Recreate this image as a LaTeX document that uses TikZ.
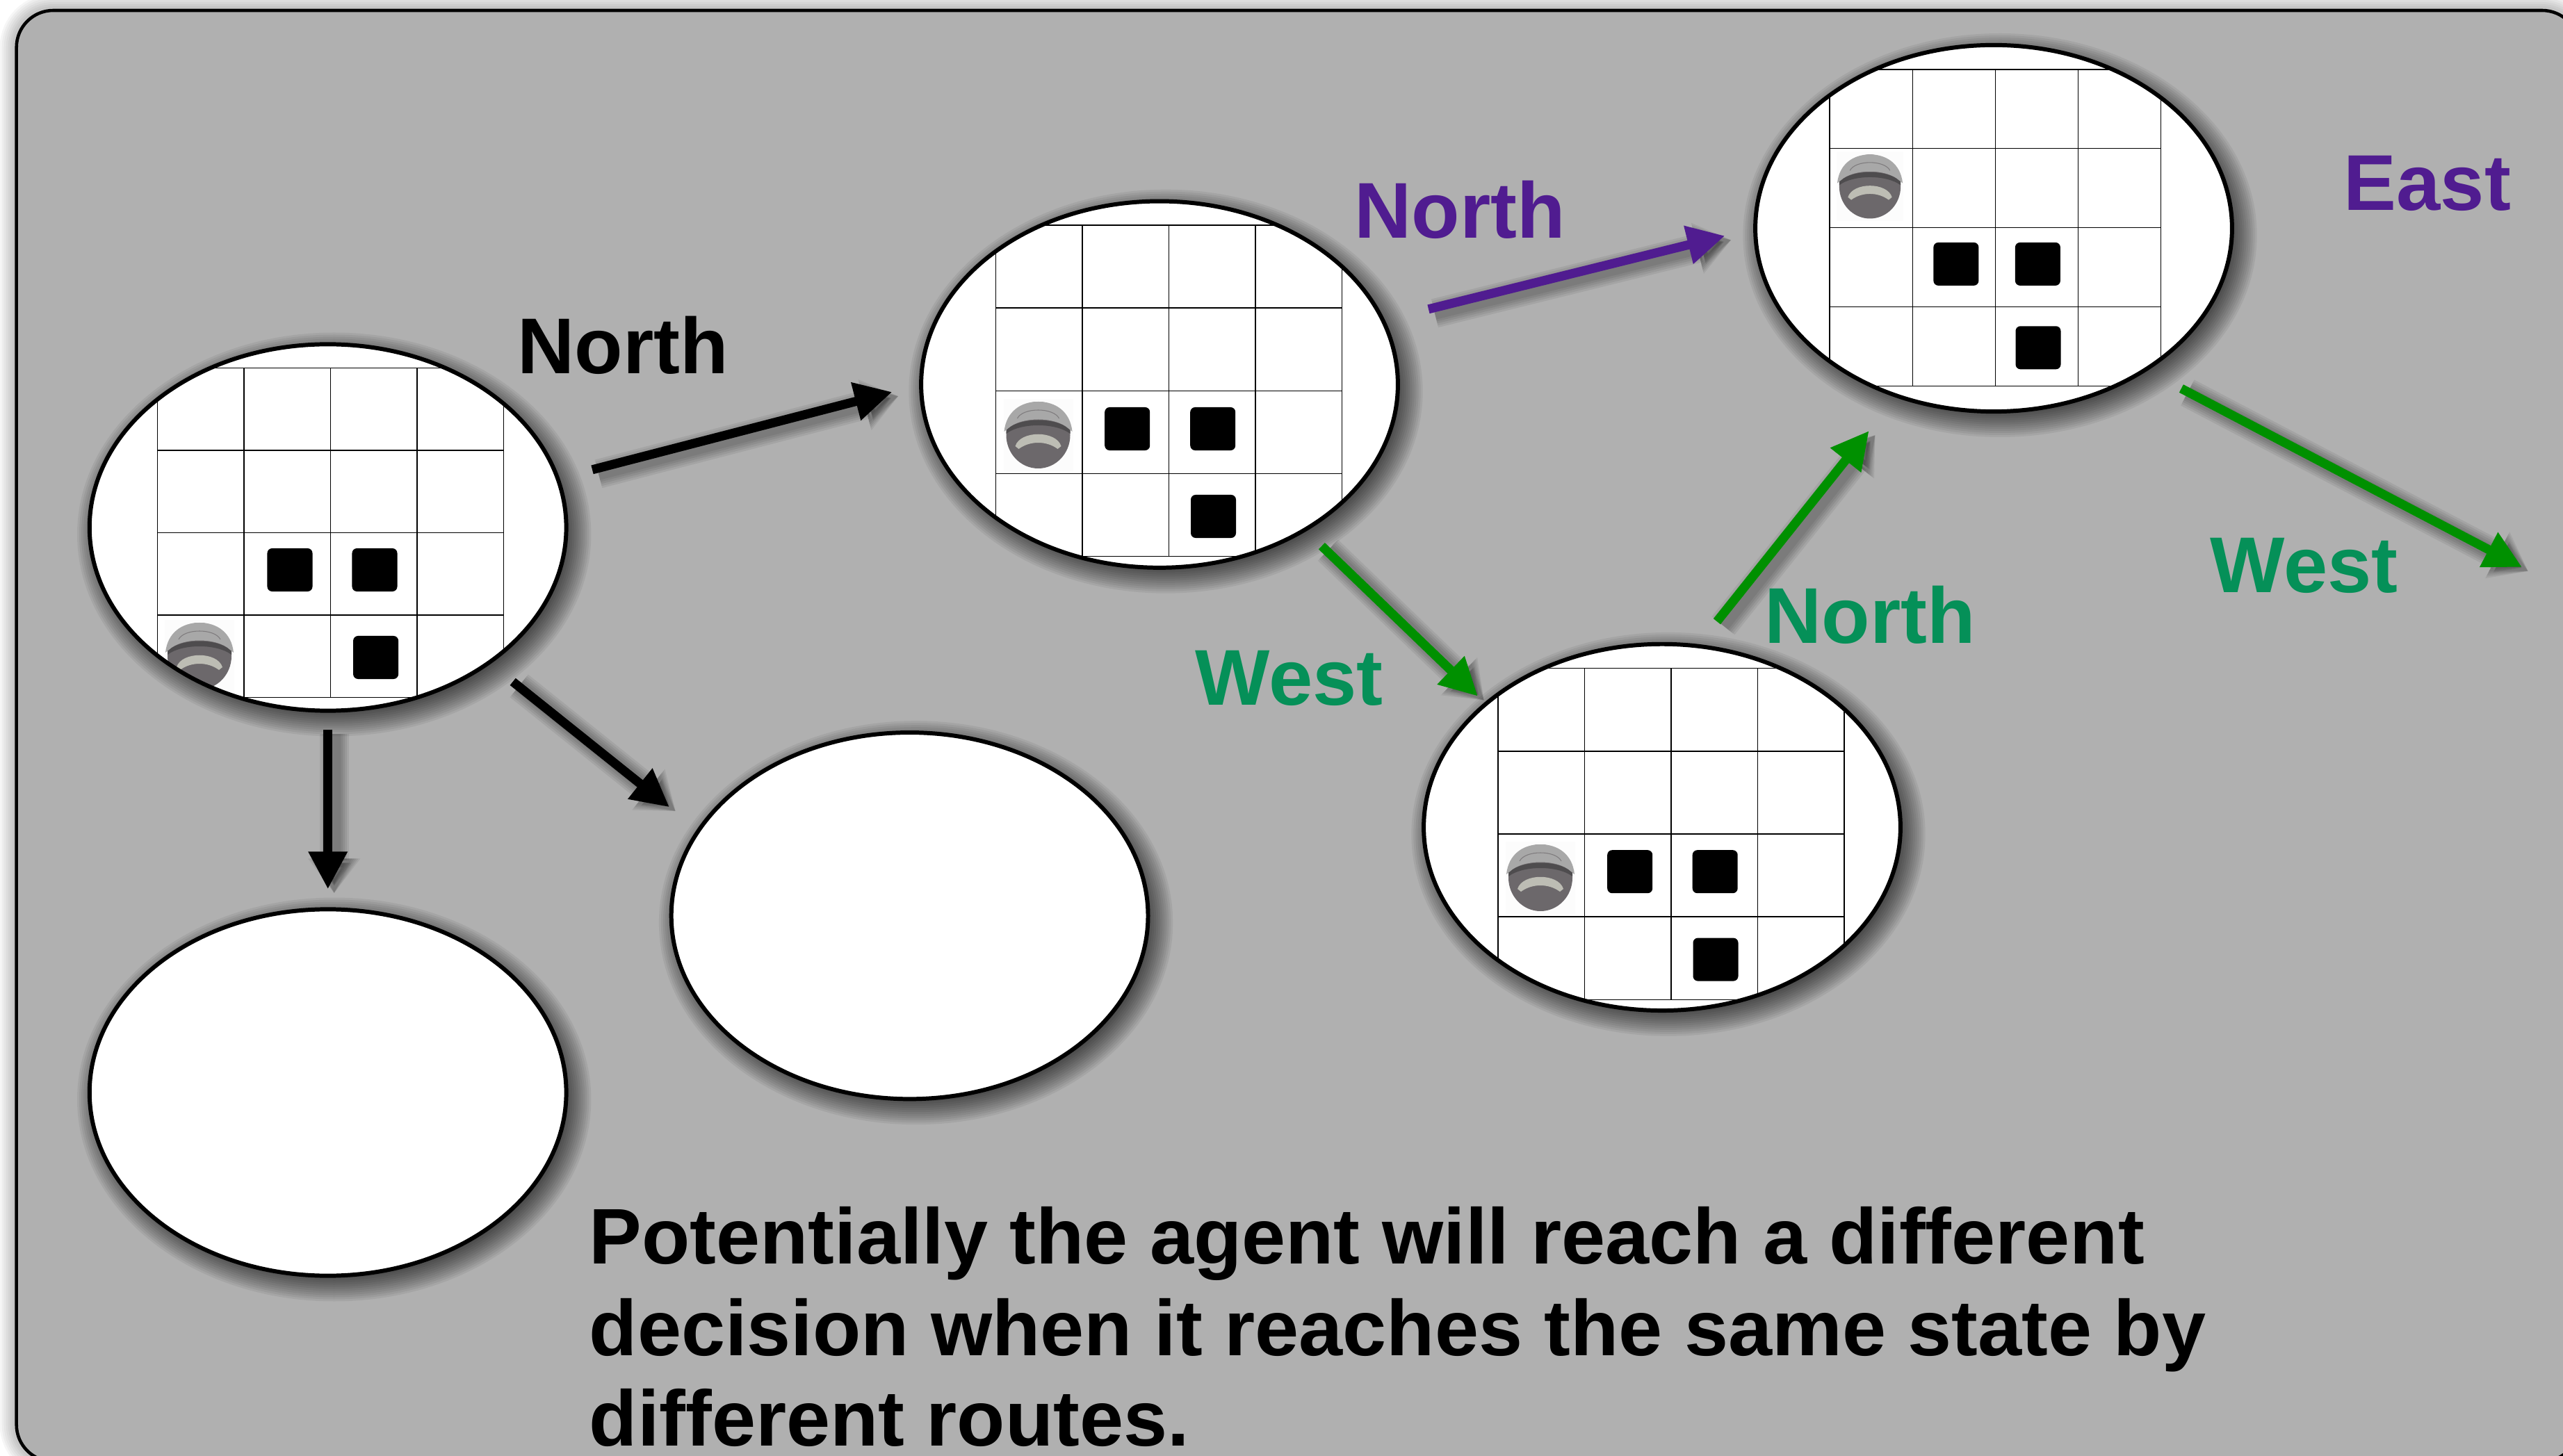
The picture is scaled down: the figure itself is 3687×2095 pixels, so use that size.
\documentclass[tikz,border=0pt]{standalone}
\usepackage{fontspec}
\setmainfont{Liberation Sans}
\usetikzlibrary{shapes.geometric,arrows.meta}
\definecolor{panel}{HTML}{B0B0B0}
\definecolor{royal}{HTML}{501C90}
\definecolor{moss}{HTML}{059058}
\definecolor{leaf}{HTML}{009000}
\definecolor{shell}{HTML}{A8A8A8}
\definecolor{body}{HTML}{6C686B}
\definecolor{lid}{HTML}{4E4C4E}
\definecolor{pad}{HTML}{BDBDB4}
\newcommand{\boardgrid}[4]{
	\foreach \i in {0,...,4} {
		\draw[gridline] ({#1+\i*#3},#2) -- ({#1+\i*#3},{#2+4*#4});
		\draw[gridline] (#1,{#2+\i*#4}) -- ({#1+4*#3},{#2+\i*#4});
	}
}
\newcommand{\softblob}[2]{
	\foreach \g in {27,24,21,18,15,12,9,6,3,0,-3,-6,-9,-12}
		\fill[black,opacity=.06] ({#1+9},{#2+10}) ellipse [x radius={342.7+\g}, y radius={263.5+\g}];
}
\newcommand{\flowarrow}[5]{
	\foreach \w in {42,36,30,24,18}
		\draw[line width=\w*0.01cm,black,opacity=.065,shorten <=#4*0.01cm,shorten >=#5*0.01cm,
			-{Triangle[length=.5cm,width=\w*0.01cm+.3cm]},
			transform canvas={xshift=.09cm,yshift=-.06cm}] (#2) -- (#3);
	\draw[route,#1,shorten <=#4*0.01cm,shorten >=#5*0.01cm] (#2) -- (#3);
}
\begin{document}
\begin{tikzpicture}
	[x=0.01cm, y=-0.01cm,
	state/.style = {draw, ellipse, fill=white, line width=1.7pt, inner sep=0pt, outer sep=0pt,
	minimum width=6.854cm, minimum height=5.27cm},
	gridline/.style = {black, line width=.36pt},
	block/.style = {fill=black, rectangle, rounded corners=.07cm, inner sep=0pt,
	minimum width=.65cm, minimum height=.62cm},
	route/.style = {line width=.13cm, -{Triangle[length=.54cm,width=.53cm]}},
	tag/.style = {anchor=base west, inner sep=0pt, font=\fontsize{32.35}{38}\selectfont\bfseries},
	note/.style = {anchor=base west, inner sep=0pt, font=\fontsize{32.25}{38}\selectfont\bfseries},
	roomba/.pic = {
		\fill[white!99!black] (-50,-52) rectangle (50,52);
		\fill[body] (0,0) ellipse [x radius=46, y radius=48];
		\fill[lid] (-46,-8) .. controls (-25,-26) and (25,-26) .. (46,-8) -- (46,-2) .. controls (25,-18) and (-25,-18) .. (-46,-2) -- cycle;
		\fill[shell] (-49,-5) .. controls (-46,-34) and (-25,-48) .. (0,-48) .. controls (25,-48) and (46,-34) .. (49,-5) -- (44,-9) .. controls (25,-27) and (-25,-27) .. (-44,-9) -- cycle;
		\draw[body!70!shell, line width=.3pt] (-30,-24) .. controls (-22,-40) and (22,-40) .. (30,-24);
		\fill[pad] (-33,16) .. controls (-26,-7) and (26,-7) .. (33,16) -- (28,20) .. controls (12,8) and (-12,8) .. (-28,20) -- cycle;
	}]
	\useasboundingbox (0,0) rectangle (3687,2095);
	\foreach \w in {48,42,36,30,24,18,12}
		\draw[black,opacity=.035,line width=\w*0.01cm,rounded corners=.53cm] (23.7,15) rectangle (3710,2103);
	\draw[fill=panel,line width=1.3pt,rounded corners=.53cm] (23.7,15) rectangle (3710,2103);
	\softblob{471.7}{759}
	\softblob{1668}{553.2}
	\softblob{2868}{328.5}
	\softblob{2391}{1190.4}
	\softblob{1308.6}{1317.7}
	\softblob{471.7}{1572}
	\node[state, path picture={
		\begin{scope}[shift={(path picture bounding box.center)}]
			\boardgrid{-245.2}{-229.7}{124.5}{118.6}
			\foreach \bx/\by [count=\n] in {-54.7/61, 67.3/61, 68.9/187}
				\node[block] (blkA\n) at (\bx,\by) {};
			\pic at (-184.7,185) {roomba};
		\end{scope}}] (stA) at (471.7,759) {};
	\node[state, path picture={
		\begin{scope}[shift={(path picture bounding box.center)}]
			\boardgrid{-235.3}{-229.2}{124.4}{119.1}
			\foreach \bx/\by [count=\n] in {-46.3/63.8, 76.7/63.8, 77.5/189.8}
				\node[block] (blkB\n) at (\bx,\by) {};
			\pic at (-174.5,72.8) {roomba};
		\end{scope}}] (stB) at (1668,553.2) {};
	\node[state, path picture={
		\begin{scope}[shift={(path picture bounding box.center)}]
			\boardgrid{-236}{-228.5}{119.2}{113.8}
			\foreach \bx/\by [count=\n] in {-54.1/51.4, 63.4/51.4, 64/171.8}
				\node[block] (blkC\n) at (\bx,\by) {};
			\pic[scale=.96] at (-178,-60.1) {roomba};
		\end{scope}}] (stC) at (2868,328.5) {};
	\node[state, path picture={
		\begin{scope}[shift={(path picture bounding box.center)}]
			\boardgrid{-236.1}{-228.6}{124.5}{119.1}
			\foreach \bx/\by [count=\n] in {-46.3/63.8, 76.2/63.8, 77/190.2}
				\node[block] (blkD\n) at (\bx,\by) {};
			\pic at (-175,72.6) {roomba};
		\end{scope}}] (stD) at (2391,1190.4) {};
	\node[state] (stE) at (1308.6,1317.7) {};
	\node[state] (stF) at (471.7,1572) {};
	\coordinate (westEnd) at (3628,816);
	\flowarrow{black}{stA.12.8}{stB.180.5}{51.5}{43}
	\flowarrow{royal}{stB.16.7}{stC.180}{67.7}{45}
	\flowarrow{leaf}{stB.-45.3}{stD.145.9}{33.8}{16}
	\flowarrow{leaf}{stD.79.9}{stC.240.6}{45.3}{64.5}
	\flowarrow{leaf}{stC.-43.2}{westEnd}{58.4}{0}
	\flowarrow{black}{stA.-40}{stE.158.8}{44}{54}
	\flowarrow{black}{stA.south}{stF.north}{27}{29}
	\node[tag] (lblNorthA) at (744,538) {North};
	\node[tag,royal] (lblNorthB) at (1948,343) {North};
	\node[tag,royal] (lblEast) at (3371,303) {East};
	\node[tag,moss] (lblNorthD) at (2538,926) {North};
	\node[tag,moss] (lblWestC) at (3179,853) {West};
	\node[tag,moss] (lblWestB) at (1719,1015) {West};
	\node[note] (lblOne) at (847,1818) {Potentially the agent will reach a different};
	\node[note] (lblTwo) at (847,1950) {decision when it reaches the same state by};
	\node[note] (lblThree) at (847,2080) {different routes.};
\end{tikzpicture}
\end{document}
